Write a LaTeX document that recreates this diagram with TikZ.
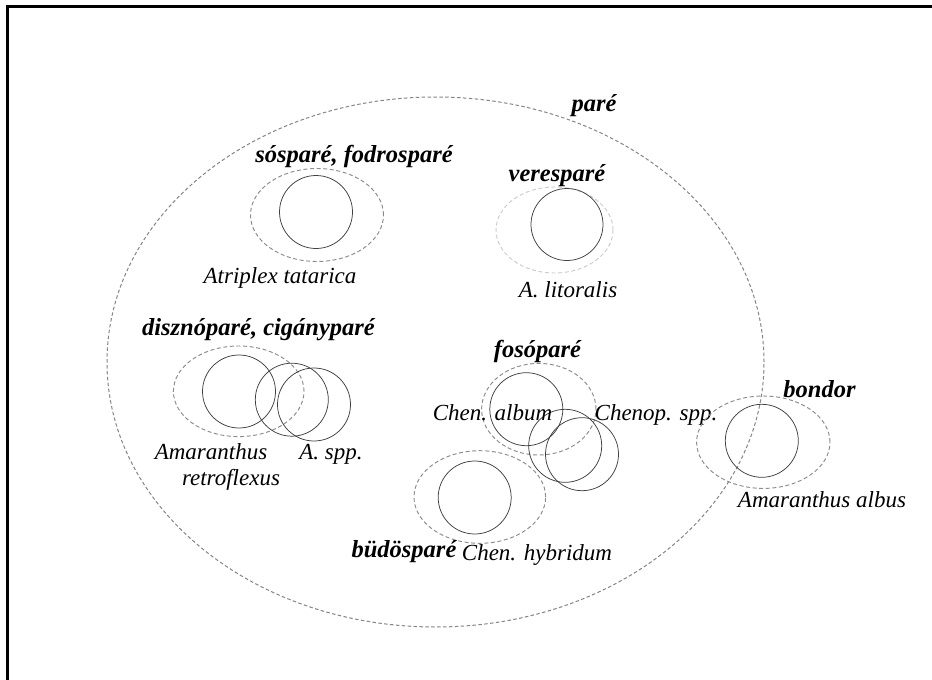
\documentclass[tikz,border=0pt]{standalone}
\usepackage{fontspec}
\setmainfont{Liberation Serif}
\begin{document}
\begin{tikzpicture}[x=1pt,y=-1pt,
  frame/.style={line width=3pt, line join=miter},
  grp/.style={draw=black!45, line width=0.95pt, dash pattern=on 4pt off 2.6pt},
  grpfaint/.style={draw=black!20, line width=0.95pt, dash pattern=on 4pt off 2.6pt},
  outer/.style={draw=black!48, line width=1pt, dash pattern=on 3.5pt off 2.4pt},
  taxon/.style={draw=black!75, line width=0.75pt},
  folk/.style={font=\fontsize{24.5}{28}\selectfont\bfseries\itshape, inner sep=0pt, anchor=base},
  sci/.style={font=\fontsize{23}{26}\selectfont\itshape, inner sep=0pt, anchor=base},
]
\useasboundingbox (0,0) rectangle (932,680);
\fill[white] (0,0) rectangle (932,680);

% corner frame (top and left edges)
\draw[frame] (7.5,680) -- (7.5,6.5) -- (932,6.5);

% the all-embracing folk category
\draw[outer] (435.5,362) ellipse [x radius=328.5pt, y radius=265pt];
\node[folk] (pare) at (594,111) {paré};

% sósparé, fodrosparé
\draw[grp] (317,215) ellipse [x radius=66.5pt, y radius=46.5pt];
\draw[taxon] (316,212) circle [radius=36.5pt];
\node[folk] (sos) at (354,162) {sósparé, fodrosparé};
\node[sci] (atat) at (280,283) {Atriplex tatarica};

% veresparé
\draw[grpfaint] (554.5,230) ellipse [x radius=58.5pt, y radius=43pt];
\draw[taxon] (567,224.5) circle [radius=36pt];
\node[folk] (veres) at (557,181) {veresparé};
\node[sci] (alit) at (568,297) {A. litoralis};

% disznóparé, cigányparé
\draw[grp] (238.7,391.3) ellipse [x radius=65.3pt, y radius=45.3pt];
\draw[taxon] (239,391.5) circle [radius=36.5pt];
\draw[taxon] (291.8,399.7) circle [radius=36.5pt];
\draw[taxon] (314,404.5) circle [radius=36.5pt];
\node[folk] (diszno) at (258.5,335) {disznóparé, cigányparé};
\node[sci] (aret1) at (211,459) {Amaranthus};
\node[sci] (aret2) at (231,485) {retroflexus};
\node[sci] (aspp) at (331,459) {A. spp.};

% fosóparé
\draw[grp] (538.8,409.2) ellipse [x radius=57.2pt, y radius=45.8pt];
\draw[taxon] (526.3,409.2) circle [radius=36.5pt];
\draw[taxon] (565.2,445.8) circle [radius=36.5pt];
\draw[taxon] (582,454.2) circle [radius=36.5pt];
\node[folk] (foso) at (537.5,357) {fosóparé};
\node[sci] (calb) at (492.5,420) {Chen. album};
\node[sci] (cspp) at (656,420) {Chenop. spp.};

% büdösparé
\draw[grp] (479.8,497) ellipse [x radius=65.8pt, y radius=46.3pt];
\draw[taxon] (474.7,497.5) circle [radius=36.5pt];
\node[folk] (budos) at (404,557) {büdösparé};
\node[sci] (chyb) at (537,560) {Chen. hybridum};

% bondor
\draw[grp] (763.3,442.2) ellipse [x radius=66.7pt, y radius=46.2pt];
\draw[taxon] (761.8,440.8) circle [radius=36.5pt];
\node[folk] (bondor) at (819.5,397) {bondor};
\node[sci] (aalb) at (822,507) {Amaranthus albus};
\end{tikzpicture}
\end{document}
